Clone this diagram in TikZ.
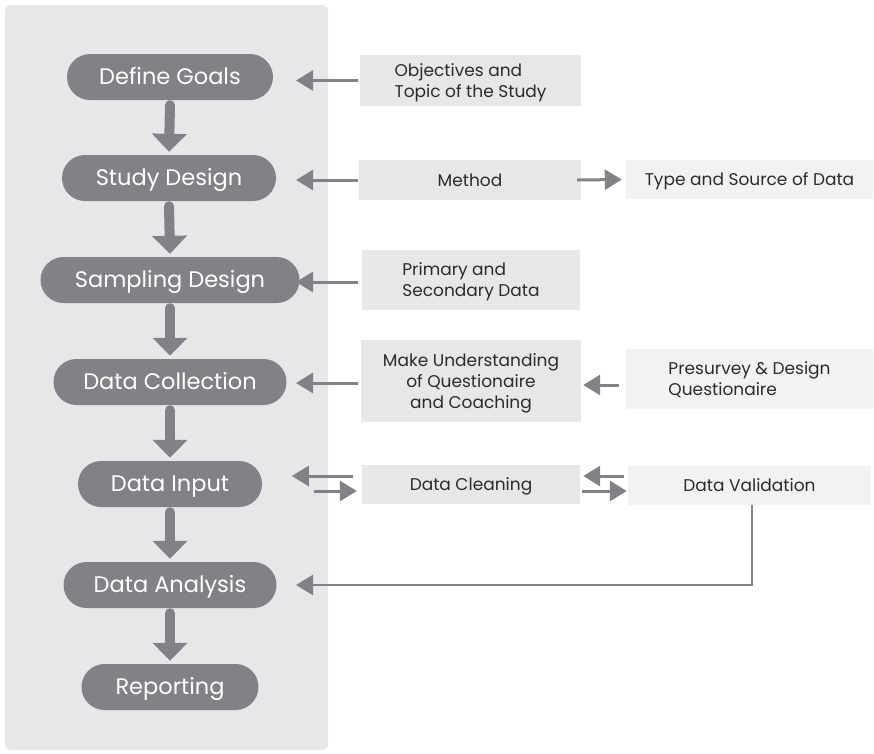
\documentclass[tikz,border=0pt]{standalone}
\usepackage{fontspec}
\setmainfont{Poppins}
\usetikzlibrary{arrows.meta}

\definecolor{pillgray}{HTML}{808285}
\definecolor{panelgray}{HTML}{E6E7E8}
\definecolor{palegray}{HTML}{F1F2F2}
\definecolor{inkgray}{HTML}{2B2B2D}

\tikzset{
  pill/.style={fill=pillgray, text=white, rounded corners=23pt, minimum height=46pt,
    inner sep=0pt, text height=15.5pt, text depth=0pt,
    font=\fontsize{22.5}{26}\selectfont},
  infobox/.style={fill=panelgray, text=inkgray, inner sep=0pt, text depth=0pt,
    font=\fontsize{17}{21}\selectfont},
  palebox/.style={infobox, fill=palegray},
  oneline/.style={text height=12pt, text depth=0pt},
  flowarrow/.style={draw=pillgray, line width=10pt, line cap=round,
    -{Triangle[width=34pt,length=18pt]}},
  sidearrow/.style={draw=pillgray, line width=3pt,
    -{Triangle[width=20pt,length=17pt]}},
  backline/.style={sidearrow, line width=2.5pt}
}

\begin{document}
\begin{tikzpicture}[x=1pt, y=-1pt]
\useasboundingbox (0,0) rectangle (874,753);
% grey column behind the main steps
\fill[panelgray, rounded corners=6pt] (5,5) rectangle (328,750);

% main steps
\node[pill, minimum width=206pt] (goals)    at (170,77)  {Define Goals};
\node[pill, minimum width=214pt] (design)   at (169,178) {Study Design};
\node[pill, minimum width=259pt] (sampling) at (170,280) {Sampling Design};
\node[pill, minimum width=233pt] (collect)  at (170,382) {Data Collection};
\node[pill, minimum width=184pt] (input)    at (170,484) {Data Input};
\node[pill, minimum width=213pt] (analysis) at (170,585) {Data Analysis};
\node[pill, minimum width=177pt] (report)   at (170,687) {Reporting};

\foreach \a/\b in {goals/design, design/sampling, sampling/collect,
                   collect/input, input/analysis, analysis/report}
  \draw[flowarrow] ([yshift=-5pt]\a.south) -- ([yshift=3pt]\b.north);

% side boxes
\node[infobox, minimum width=221pt, minimum height=51pt, align=left] (topic) at (470.5,80.5)
  {Objectives and\\Topic of the Study};
\node[infobox, oneline, minimum width=222pt, minimum height=40pt] (method) at (470,180) {Method};
\node[palebox, oneline, minimum width=247pt, minimum height=39pt] (source) at (749.5,179.5)
  {Type and Source of Data};
\node[infobox, minimum width=218pt, minimum height=60pt, align=left] (primary) at (471,280)
  {Primary and\\Secondary Data};
\node[infobox, minimum width=220pt, minimum height=82pt, align=center] (coach) at (471,381)
  {Make Understanding\\of Questionaire\\and Coaching};
\node[palebox, minimum width=247pt, minimum height=60pt, align=left] (presurvey) at (749.5,379)
  {Presurvey \& Design\\Questionaire};
\node[infobox, oneline, minimum width=218pt, minimum height=39pt] (clean) at (471,484.5) {Data Cleaning};
\node[palebox, oneline, minimum width=243pt, minimum height=39pt] (valid) at (749.5,485.5) {Data Validation};

% arrows tips line up at the column edge
\coordinate (rail) at (296,0);
\draw[sidearrow] ([xshift=-2pt]topic.west) -- (topic.west -| rail);
\draw[sidearrow] ([xshift=-1pt]method.west) -- (method.west -| rail);
\draw[sidearrow] ([xshift=-4pt,yshift=-2pt]primary.west) -- ([yshift=-2pt]primary.west -| rail);
\draw[sidearrow] ([xshift=-3pt,yshift=-2pt]coach.west) -- ([yshift=-2pt]coach.west -| rail);
\draw[sidearrow] ([xshift=-4pt]method.east) -- ([xshift=-4pt]source.west);
\draw[sidearrow] ([xshift=-7pt,yshift=-6pt]presurvey.west) -- ([xshift=2pt,yshift=-4pt]coach.east);

% cleaning loop
\draw[sidearrow] ([xshift=-9pt,yshift=8.5pt]clean.west) -- ++(-61,0);
\draw[sidearrow] ([xshift=-48pt,yshift=-6.5pt]clean.west) -- ([xshift=-5pt,yshift=-6.5pt]clean.west);
\draw[sidearrow] ([xshift=-4pt,yshift=9.5pt]valid.west) -- ([xshift=3pt,yshift=8.5pt]clean.east);
\draw[sidearrow] ([xshift=2pt,yshift=-6.5pt]clean.east) -- ([xshift=-1pt,yshift=-5.5pt]valid.west);
\draw[backline] ([xshift=2.5pt]valid.south) |- (analysis.east -| rail);
\end{tikzpicture}
\end{document}
